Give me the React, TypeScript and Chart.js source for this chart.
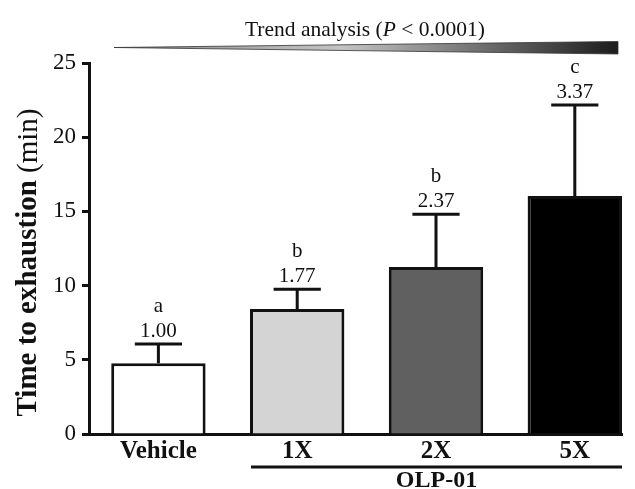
import React, { useEffect, useRef } from "react";
import { Chart, registerables } from "chart.js";

Chart.register(...registerables);

const categories = ["Vehicle", "1X", "2X", "5X"];
const meanValues = [4.76, 8.42, 11.26, 16.04];
const sdValues = [1.3, 1.33, 3.54, 6.13];
const foldLabels = ["1.00", "1.77", "2.37", "3.37"];
const groupLetters = ["a", "b", "b", "c"];
const barColors = ["#ffffff", "#d4d4d4", "#606060", "#000000"];
const yTicks = [0, 5, 10, 15, 20, 25];
const groupName = "OLP-01";
const groupStart = 1;
const groupEnd = 3;

const SERIF = '"Liberation Serif", "Times New Roman", serif';
const INK = "#111111";

const overlayPlugin = {
  id: "overlay",
  afterDatasetsDraw(chart: any) {
    const ctx = chart.ctx;
    const yScale = chart.scales.y;
    const meta = chart.getDatasetMeta(0);
    ctx.save();
    ctx.strokeStyle = INK;
    ctx.fillStyle = INK;
    ctx.lineWidth = 3;
    ctx.lineCap = "butt";
    meta.data.forEach((el: any, i: number) => {
      const x = el.x;
      const w = el.width;
      const top = yScale.getPixelForValue(meanValues[i] + sdValues[i]);
      ctx.beginPath();
      ctx.moveTo(x, el.y);
      ctx.lineTo(x, top);
      ctx.moveTo(x - w / 4, top);
      ctx.lineTo(x + w / 4, top);
      ctx.stroke();
      ctx.font = `21px ${SERIF}`;
      ctx.textAlign = "center";
      ctx.textBaseline = "alphabetic";
      ctx.fillText(foldLabels[i], x, top - 7);
      ctx.fillText(groupLetters[i], x, top - 32);
    });
    ctx.restore();
  },
  afterDraw(chart: any) {
    const ctx = chart.ctx;
    const area = chart.chartArea;
    const meta = chart.getDatasetMeta(0);
    ctx.save();
    // y-axis title
    const bold = "Time to exhaustion ";
    const normal = "(min)";
    ctx.font = `bold 29px ${SERIF}`;
    const wb = ctx.measureText(bold).width;
    ctx.font = `29px ${SERIF}`;
    const wn = ctx.measureText(normal).width;
    const total = wb + wn;
    ctx.translate(29, (area.top + area.bottom) / 2 + 14);
    ctx.rotate(-Math.PI / 2);
    ctx.fillStyle = INK;
    ctx.textBaseline = "middle";
    ctx.textAlign = "left";
    ctx.font = `bold 29px ${SERIF}`;
    ctx.fillText(bold, -total / 2, 0);
    ctx.font = `29px ${SERIF}`;
    ctx.fillText(normal, -total / 2 + wb, 0);
    ctx.restore();

    // group bracket
    ctx.save();
    const a = meta.data[groupStart] as any;
    const b = meta.data[groupEnd] as any;
    const x0 = a.x - a.width / 2 + 1;
    const x1 = b.x + b.width / 2;
    ctx.strokeStyle = INK;
    ctx.lineWidth = 3;
    ctx.beginPath();
    ctx.moveTo(x0, 467);
    ctx.lineTo(x1, 467);
    ctx.stroke();
    ctx.fillStyle = INK;
    ctx.font = `bold 24px ${SERIF}`;
    ctx.textAlign = "center";
    ctx.textBaseline = "alphabetic";
    ctx.fillText(groupName, (x0 + x1) / 2, 487);
    ctx.restore();

    // trend wedge
    ctx.save();
    const wx0 = 114;
    const wx1 = 618;
    const grad = ctx.createLinearGradient(wx0, 0, wx1, 0);
    grad.addColorStop(0, "#8a8a8a");
    grad.addColorStop(0.45, "#c4c4c4");
    grad.addColorStop(1, "#1c1c1c");
    ctx.fillStyle = grad;
    ctx.beginPath();
    ctx.moveTo(wx0, 47.5);
    ctx.lineTo(wx1, 41.5);
    ctx.lineTo(wx1, 54);
    ctx.closePath();
    ctx.fill();
    ctx.strokeStyle = "#333";
    ctx.lineWidth = 0.8;
    ctx.stroke();
    // trend text
    const t1 = "Trend analysis (";
    const t2 = "P";
    const t3 = " < 0.0001)";
    ctx.font = `21.5px ${SERIF}`;
    const w1 = ctx.measureText(t1).width;
    const w3 = ctx.measureText(t3).width;
    ctx.font = `italic 21.5px ${SERIF}`;
    const w2 = ctx.measureText(t2).width;
    const tw = w1 + w2 + w3;
    let tx = 365 - tw / 2;
    ctx.fillStyle = INK;
    ctx.textAlign = "left";
    ctx.textBaseline = "alphabetic";
    ctx.font = `21.5px ${SERIF}`;
    ctx.fillText(t1, tx, 36);
    tx += w1;
    ctx.font = `italic 21.5px ${SERIF}`;
    ctx.fillText(t2, tx, 36);
    tx += w2;
    ctx.font = `21.5px ${SERIF}`;
    ctx.fillText(t3, tx, 36);
    ctx.restore();
  },
};

export default function App() {
  const ref = useRef<HTMLCanvasElement | null>(null);
  useEffect(() => {
    document.body.style.margin = "0";
    const canvas = ref.current!;
    const chart = new Chart(canvas, {
      type: "bar",
      data: {
        datasets: [
          {
            data: meanValues.map((v, i) => ({ x: i, y: v })),
            backgroundColor: barColors,
            borderColor: INK,
            borderWidth: 3,
            borderSkipped: "start",
            barPercentage: 0.68,
            categoryPercentage: 1,
          } as any,
        ],
      },
      options: {
        responsive: false,
        animation: false,
        devicePixelRatio: 1,
        layout: { padding: { top: 63, right: 13, left: 0, bottom: 0 } },
        plugins: {
          legend: { display: false },
          tooltip: { enabled: false },
          title: { display: false },
        },
        scales: {
          x: {
            type: "linear",
            min: -0.5,
            max: 3.34,
            offset: false,
            afterBuildTicks: (scale: any) => {
              scale.ticks = categories.map((_, i) => ({ value: i }));
            },
            afterFit: (scale: any) => {
              scale.height = 55;
            },
            ticks: {
              autoSkip: false,
              maxRotation: 0,
              padding: 3,
              color: INK,
              font: { family: SERIF, size: 25, weight: "bold" },
              callback: (v: any) => categories[v] ?? "",
            },
            grid: { display: false, drawTicks: false },
            border: { display: true, width: 3, color: INK },
          } as any,
          y: {
            min: 0,
            max: 25,
            afterBuildTicks: (scale: any) => {
              scale.ticks = yTicks.map((v) => ({ value: v }));
            },
            afterFit: (scale: any) => {
              scale.width = 89;
            },
            ticks: {
              padding: 6,
              color: INK,
              font: { family: SERIF, size: 23 },
            },
            grid: {
              display: true,
              drawOnChartArea: false,
              drawTicks: true,
              tickLength: 7,
              tickWidth: 3,
              tickColor: INK,
            },
            border: { display: true, width: 3, color: INK },
          } as any,
        },
      },
      plugins: [overlayPlugin],
    });
    return () => chart.destroy();
  }, []);
  return <canvas ref={ref} width={635} height={489} style={{ display: "block" }} />;
}
